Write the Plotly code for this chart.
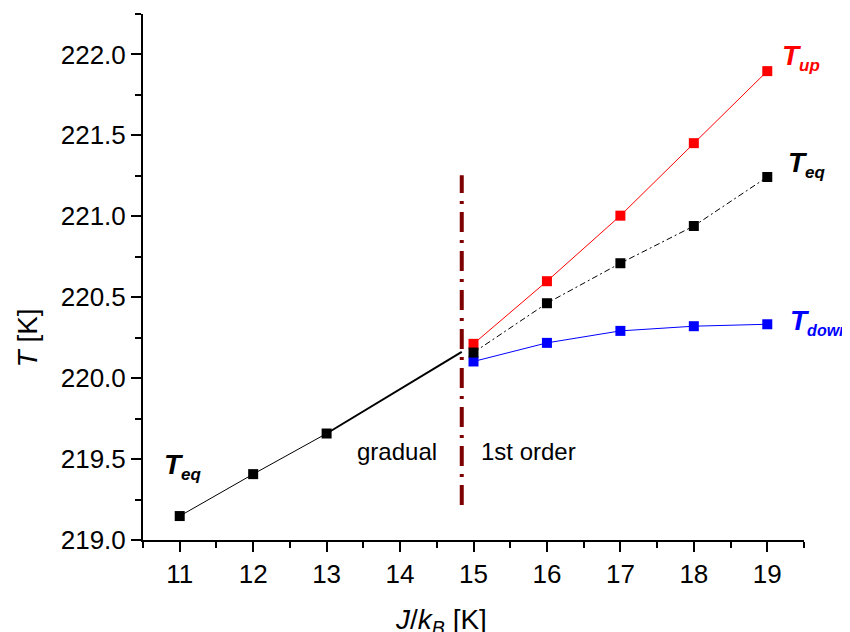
import plotly.graph_objects as go

# ---- data ----
j_grad = [11, 12, 13]
t_eq_grad = [219.148, 219.407, 219.658]
j_ext = [13, 14.84]
t_ext = [219.658, 220.163]

j_first = [15, 16, 17, 18, 19]
t_up = [220.212, 220.599, 221.004, 221.452, 221.897]
t_eq = [220.158, 220.463, 220.710, 220.940, 221.243]
t_down = [220.103, 220.218, 220.292, 220.321, 220.333]

j_boundary = [14.84, 14.84]
t_boundary = [219.216, 221.253]

x_ticks = [11, 12, 13, 14, 15, 16, 17, 18, 19]
y_ticks = [219.0, 219.5, 220.0, 220.5, 221.0, 221.5, 222.0]

FONT = "Arial, Liberation Sans, sans-serif"

fig = go.Figure()

# boundary dash-dot line
fig.add_trace(go.Scatter(x=j_boundary, y=t_boundary, mode="lines",
                         line=dict(color="#7f0000", width=4, dash="20px,8px,3px,8px"),
                         showlegend=False, hoverinfo="skip"))
# extension of gradual line
fig.add_trace(go.Scatter(x=j_ext, y=t_ext, mode="lines",
                         line=dict(color="black", width=2), showlegend=False))
fig.add_trace(go.Scatter(x=j_grad, y=t_eq_grad, mode="lines+markers",
                         line=dict(color="black", width=1),
                         marker=dict(symbol="square", size=10, color="black"),
                         showlegend=False))
fig.add_trace(go.Scatter(x=j_first, y=t_up, mode="lines+markers",
                         line=dict(color="#ff0000", width=1),
                         marker=dict(symbol="square", size=10, color="#ff0000"),
                         showlegend=False))
fig.add_trace(go.Scatter(x=j_first, y=t_down, mode="lines+markers",
                         line=dict(color="#0000ff", width=1),
                         marker=dict(symbol="square", size=10, color="#0000ff"),
                         showlegend=False))
fig.add_trace(go.Scatter(x=j_first, y=t_eq, mode="lines+markers",
                         line=dict(color="black", width=1, dash="6px,3px,2px,3px"),
                         marker=dict(symbol="square", size=10, color="black"),
                         showlegend=False))

def lab(txt, sub, subsize=17):
    return (f"<b><i>{txt}</i></b><sub><span style='font-size:{subsize}px'><b><i>{sub}</i></b></span></sub>")

annos = [
    dict(x=19.17, y=221.98, text=lab("T", "up"), color="#ff0000"),
    dict(x=19.25, y=221.32, text=lab("T", "eq"), color="black"),
    dict(x=19.28, y=220.35, text=lab("T", "down", 16), color="#0000ff"),
    dict(x=10.76, y=219.455, text=lab("T", "eq"), color="black"),
]
for a in annos:
    fig.add_annotation(xref="x", yref="y", x=a["x"], y=a["y"], text=a["text"],
                       xanchor="left", yanchor="middle", showarrow=False,
                       font=dict(family=FONT, size=28, color=a["color"]))

fig.add_annotation(xref="x", yref="y", x=13.956, y=219.545, text="gradual",
                   showarrow=False, font=dict(family=FONT, size=24, color="black"))
fig.add_annotation(xref="x", yref="y", x=15.75, y=219.545, text="1st order",
                   showarrow=False, font=dict(family=FONT, size=24, color="black"))

# axis titles
fig.add_annotation(xref="paper", yref="paper", x=-0.174, y=0.385,
                   xanchor="center", yanchor="middle",
                   text="<i>T</i> [K]", textangle=-90, showarrow=False,
                   font=dict(family=FONT, size=28, color="black"))
fig.add_annotation(xref="paper", yref="paper", x=0.451, y=-0.155,
                   xanchor="center", yanchor="middle",
                   text="<i>J</i>/<i>k</i><sub><i>B</i></sub> [K]", showarrow=False,
                   font=dict(family=FONT, size=28, color="black"))

fig.update_layout(
    width=842, height=624,
    margin=dict(l=135, r=46, t=6, b=92),
    plot_bgcolor="white", paper_bgcolor="white",
    font=dict(family=FONT, size=26, color="black"),
    showlegend=False,
    xaxis=dict(range=[10.5, 19.5], tickvals=x_ticks, ticks="outside", ticklen=10,
               tickwidth=2, tickcolor="black", showline=True, linecolor="black",
               linewidth=2, showgrid=False, zeroline=False, automargin=False,
               tickfont=dict(size=26), fixedrange=True,
               minor=dict(dtick=0.5, tick0=10.5, ticks="outside", ticklen=6,
                          tickwidth=2, tickcolor="black", showgrid=False)),
    yaxis=dict(range=[219.0, 222.25], tickvals=y_ticks, tickformat=".1f",
               ticks="outside", ticklen=10, tickwidth=2, tickcolor="black",
               showline=True, linecolor="black", linewidth=2, showgrid=False,
               zeroline=False, automargin=False, tickfont=dict(size=26),
               fixedrange=True,
               minor=dict(dtick=0.25, tick0=219.0, ticks="outside", ticklen=6,
                          tickwidth=2, tickcolor="black", showgrid=False)),
)

fig.write_html("out.html")
